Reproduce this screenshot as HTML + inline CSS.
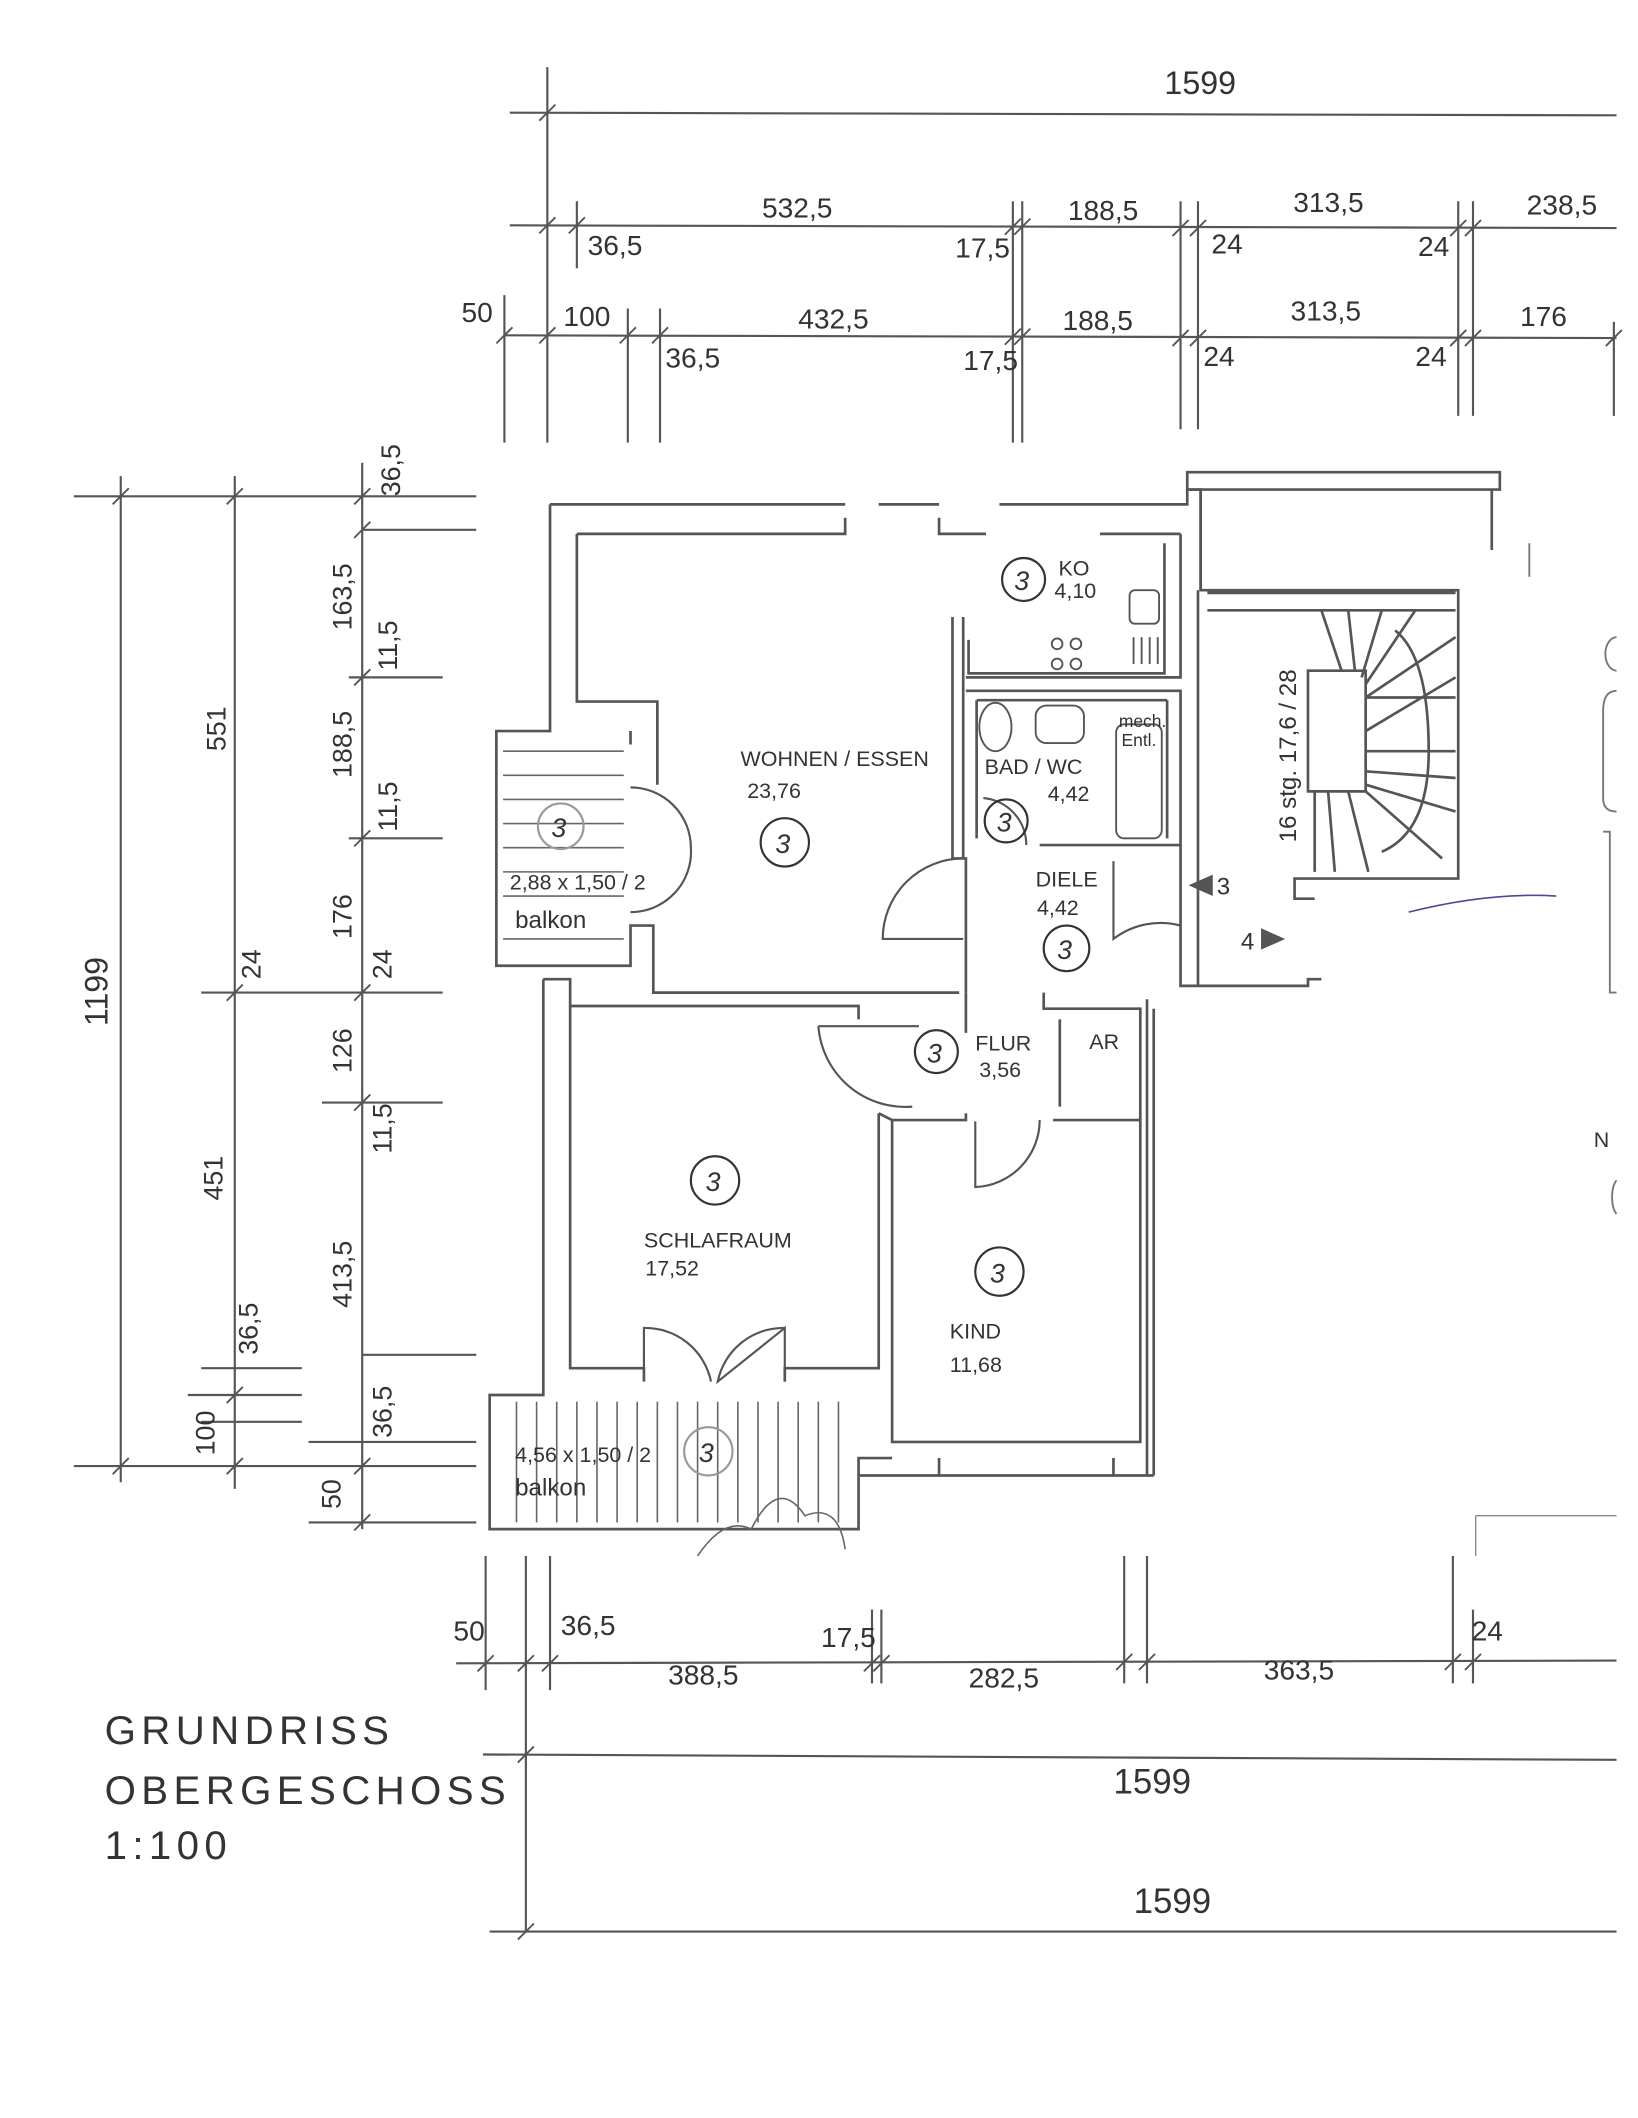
<!DOCTYPE html>
<html><head><meta charset="utf-8"><style>
html,body{margin:0;padding:0;background:#fff;}
svg{display:block}
text{font-family:"Liberation Sans",sans-serif;fill:#333;}
</style></head><body>
<svg width="1638" height="2118" viewBox="0 0 1221 1579" preserveAspectRatio="none" xmlns="http://www.w3.org/2000/svg">
<rect width="1221" height="1579" fill="#fff"/>
<g stroke="#555" stroke-width="1.6" fill="none">
<!-- top dimension lines -->
<line x1="380" y1="84" x2="1205" y2="86"/>
<line x1="380" y1="168" x2="1205" y2="170"/>
<line x1="376" y1="250" x2="1205" y2="252"/>
<line x1="408" y1="50" x2="408" y2="330"/>
<line x1="376" y1="220" x2="376" y2="330"/>
<line x1="430" y1="150" x2="430" y2="200"/>
<line x1="468" y1="230" x2="468" y2="330"/>
<line x1="492" y1="230" x2="492" y2="330"/>
<line x1="755" y1="150" x2="755" y2="330"/>
<line x1="762" y1="150" x2="762" y2="330"/>
<line x1="880" y1="150" x2="880" y2="320"/>
<line x1="893" y1="150" x2="893" y2="320"/>
<line x1="1087" y1="150" x2="1087" y2="310"/>
<line x1="1098" y1="150" x2="1098" y2="310"/>
<line x1="1203" y1="240" x2="1203" y2="310"/>
<!-- ticks -->
<g stroke-width="1.4">
<line x1="402" y1="90" x2="414" y2="78"/><line x1="402" y1="174" x2="414" y2="162"/><line x1="424" y1="174" x2="436" y2="162"/>
<line x1="749" y1="175" x2="761" y2="163"/><line x1="756" y1="175" x2="768" y2="163"/><line x1="874" y1="176" x2="886" y2="164"/><line x1="887" y1="176" x2="899" y2="164"/><line x1="1081" y1="176" x2="1093" y2="164"/><line x1="1092" y1="176" x2="1104" y2="164"/>
<line x1="370" y1="256" x2="382" y2="244"/><line x1="402" y1="256" x2="414" y2="244"/><line x1="462" y1="256" x2="474" y2="244"/><line x1="486" y1="256" x2="498" y2="244"/><line x1="749" y1="257" x2="761" y2="245"/><line x1="756" y1="257" x2="768" y2="245"/><line x1="874" y1="258" x2="886" y2="246"/><line x1="887" y1="258" x2="899" y2="246"/><line x1="1081" y1="258" x2="1093" y2="246"/><line x1="1092" y1="258" x2="1104" y2="246"/><line x1="1197" y1="258" x2="1209" y2="246"/>
</g>
<!-- left dimension lines -->
<line x1="90" y1="355" x2="90" y2="1105"/>
<line x1="175" y1="355" x2="175" y2="1110"/>
<line x1="270" y1="345" x2="270" y2="1140"/>
<line x1="55" y1="370" x2="355" y2="370"/>
<line x1="270" y1="395" x2="355" y2="395"/>
<line x1="260" y1="505" x2="330" y2="505"/>
<line x1="260" y1="625" x2="330" y2="625"/>
<line x1="150" y1="740" x2="330" y2="740"/>
<line x1="240" y1="822" x2="330" y2="822"/>
<line x1="140" y1="1040" x2="225" y2="1040"/>
<line x1="55" y1="1093" x2="355" y2="1093"/>
<line x1="230" y1="1135" x2="355" y2="1135"/>
<line x1="230" y1="1075" x2="355" y2="1075"/>
<line x1="270" y1="1010" x2="355" y2="1010"/>
<line x1="150" y1="1020" x2="225" y2="1020"/>
<line x1="150" y1="1060" x2="225" y2="1060"/>
<g stroke-width="1.4">
<line x1="84" y1="376" x2="96" y2="364"/><line x1="169" y1="376" x2="181" y2="364"/><line x1="264" y1="376" x2="276" y2="364"/><line x1="264" y1="401" x2="276" y2="389"/>
<line x1="264" y1="511" x2="276" y2="499"/><line x1="264" y1="631" x2="276" y2="619"/><line x1="169" y1="746" x2="181" y2="734"/><line x1="264" y1="746" x2="276" y2="734"/>
<line x1="264" y1="828" x2="276" y2="816"/><line x1="169" y1="1046" x2="181" y2="1034"/><line x1="84" y1="1099" x2="96" y2="1087"/><line x1="169" y1="1099" x2="181" y2="1087"/><line x1="264" y1="1099" x2="276" y2="1087"/><line x1="264" y1="1141" x2="276" y2="1129"/>
</g>
<!-- bottom dimension lines -->
<line x1="340" y1="1240" x2="1205" y2="1238"/>
<line x1="360" y1="1308" x2="1205" y2="1312"/>
<line x1="365" y1="1440" x2="1205" y2="1440"/>
<line x1="362" y1="1160" x2="362" y2="1260"/>
<line x1="392" y1="1160" x2="392" y2="1440"/>
<line x1="410" y1="1160" x2="410" y2="1260"/>
<line x1="650" y1="1200" x2="650" y2="1255"/>
<line x1="657" y1="1200" x2="657" y2="1255"/>
<line x1="838" y1="1160" x2="838" y2="1255"/>
<line x1="855" y1="1160" x2="855" y2="1255"/>
<line x1="1083" y1="1160" x2="1083" y2="1255"/>
<line x1="1098" y1="1200" x2="1098" y2="1255"/>
<g stroke-width="1.4">
<line x1="356" y1="1246" x2="368" y2="1234"/><line x1="386" y1="1246" x2="398" y2="1234"/><line x1="404" y1="1246" x2="416" y2="1234"/><line x1="644" y1="1246" x2="656" y2="1234"/><line x1="651" y1="1246" x2="663" y2="1234"/><line x1="832" y1="1245" x2="844" y2="1233"/><line x1="849" y1="1245" x2="861" y2="1233"/><line x1="1077" y1="1245" x2="1089" y2="1233"/><line x1="1092" y1="1245" x2="1104" y2="1233"/>
<line x1="386" y1="1314" x2="398" y2="1302"/><line x1="386" y1="1446" x2="398" y2="1434"/>
</g>
</g>

<!-- walls -->
<g stroke="#555" stroke-width="2" fill="none">
<!-- outer -->
<path d="M410,376 L630,376 M655,376 L700,376 M745,376 L885,376 L885,365 L895,365 L895,440"/>
<path d="M430,398 L630,398 L630,386 M700,386 L700,398 L735,398 M820,398 L880,398"/>
<path d="M410,376 L410,545 L370,545 L370,720 L470,720 L470,690 L487,690 L487,740 L715,740"/>
<path d="M430,398 L430,523 L490,523 L490,585 M470,545 L470,555"/>
<path d="M405,730 L405,1040 L365,1040 L365,1140 L640,1140 L640,1100 L860,1100"/>
<path d="M425,750 L425,1020 L480,1020 L480,1030 M585,1030 L585,1020 L655,1020 L655,830"/>
<path d="M405,730 L425,730 L425,750 L640,750 L640,760"/>
<path d="M665,835 L665,1075 L850,1075 L850,835 L785,835"/>
<path d="M640,1100 L640,1087 L665,1087 M700,1087 L700,1100 M830,1087 L830,1100"/>
<path d="M665,835 L655,830 M665,835 L720,835 L720,830"/>
<!-- inner hall/kitchen/bath -->
<path d="M710,460 L710,640 L720,640 L720,740"/>
<path d="M718,460 L718,640"/>
<path d="M720,505 L880,505 L880,398"/>
<path d="M722,477 L722,502 L868,502 L868,405"/>
<path d="M720,515 L880,515 L880,630 L775,630"/>
<path d="M728,522 L728,625 M870,522 L870,625 M728,522 L870,522"/>
<path d="M720,740 L720,770 M778,740 L778,752 L850,752 L850,835 M790,760 L790,825"/>
<path d="M880,630 L880,735 L975,735 L975,730 L985,730"/>
<path d="M860,752 L860,1100 M855,745 L855,1100"/>
<!-- stairwell -->
<path d="M885,365 L1118,365 L1118,352 L885,352 Z"/>
<path d="M1112,365 L1112,410 M895,365 L895,440 L1087,440 L1087,655 L965,655 L965,670 L980,670"/>
<path d="M893,440 L893,735"/>
<path d="M900,442 L1085,442 M900,455 L1085,455"/>
<path d="M975,500 L1018,500 L1018,590 L975,590 Z"/>
<path d="M1018,520 L1085,520 M1018,560 L1085,560 M1018,545 L1085,505"/>
<path d="M985,455 L1000,500 M1005,455 L1010,500 M1030,455 L1015,505 M1055,455 L1018,510 M1085,475 L1018,520"/>
<path d="M1018,575 L1085,580 M1018,585 L1085,605 M1018,590 L1075,640 M1005,590 L1020,650 M990,590 L995,650 M980,590 L980,650"/>
<path d="M1040,470 Q1065,490 1065,560 Q1065,620 1030,635"/>
</g>
<!-- doors arcs -->
<g stroke="#555" stroke-width="1.6" fill="none">
<path d="M470,587 A45,45 0 0 1 515,632 M470,680 A45,45 0 0 0 515,632"/>
<path d="M718,640 A60,60 0 0 0 658,700 L718,700"/>
<path d="M830,642 L830,700 A58,58 0 0 1 880,690"/>
<path d="M733,595 A35,35 0 0 1 765,630"/>
<path d="M610,765 L685,765 M610,765 A65,65 0 0 0 680,825"/>
<path d="M727,836 L727,885 A50,50 0 0 0 775,835"/>
<path d="M480,1020 L480,990 A50,50 0 0 1 530,1030 M585,990 A50,50 0 0 0 535,1030 L585,990 L585,1030"/>
</g>
<!-- balcony hatch -->
<g stroke="#666" stroke-width="1.2">
<line x1="375" y1="560" x2="465" y2="560"/><line x1="375" y1="578" x2="465" y2="578"/><line x1="375" y1="596" x2="465" y2="596"/><line x1="375" y1="614" x2="465" y2="614"/><line x1="375" y1="632" x2="465" y2="632"/><line x1="375" y1="650" x2="465" y2="650"/><line x1="375" y1="668" x2="465" y2="668"/><line x1="375" y1="700" x2="465" y2="700"/>
</g>
<g stroke="#666" stroke-width="1.2">
<line x1="385" y1="1045" x2="385" y2="1135"/><line x1="400" y1="1045" x2="400" y2="1135"/><line x1="415" y1="1045" x2="415" y2="1135"/><line x1="430" y1="1045" x2="430" y2="1135"/><line x1="445" y1="1045" x2="445" y2="1135"/><line x1="460" y1="1045" x2="460" y2="1135"/><line x1="475" y1="1045" x2="475" y2="1135"/><line x1="490" y1="1045" x2="490" y2="1135"/><line x1="505" y1="1045" x2="505" y2="1135"/><line x1="520" y1="1045" x2="520" y2="1135"/><line x1="535" y1="1045" x2="535" y2="1135"/><line x1="550" y1="1045" x2="550" y2="1135"/><line x1="565" y1="1045" x2="565" y2="1135"/><line x1="580" y1="1045" x2="580" y2="1135"/><line x1="595" y1="1045" x2="595" y2="1135"/><line x1="610" y1="1045" x2="610" y2="1135"/><line x1="625" y1="1045" x2="625" y2="1135"/>
</g>
<path d="M520,1160 Q540,1130 560,1140 Q580,1100 600,1130 Q625,1120 630,1155" stroke="#666" fill="none" stroke-width="1.2"/>
<path d="M1100,1130 L1100,1160 M1100,1130 L1205,1130" stroke="#888" fill="none"/>
<path d="M1050,680 Q1110,665 1160,668" stroke="#4a4a9a" fill="none" stroke-width="1.2"/>
<!-- kitchen/bath fixtures -->
<g stroke="#555" stroke-width="1.4" fill="none">
<rect x="842" y="440" width="22" height="25" rx="4"/>
<circle cx="788" cy="480" r="4"/><circle cx="802" cy="480" r="4"/><circle cx="788" cy="495" r="4"/><circle cx="802" cy="495" r="4"/>
<line x1="845" y1="475" x2="845" y2="495"/><line x1="851" y1="475" x2="851" y2="495"/><line x1="857" y1="475" x2="857" y2="495"/><line x1="863" y1="475" x2="863" y2="495"/>
<ellipse cx="742" cy="542" rx="12" ry="18"/>
<rect x="772" y="526" width="36" height="28" rx="8"/>
<rect x="832" y="540" width="34" height="85" rx="6"/>
</g>
<g stroke="#333" stroke-width="1.6" fill="none">
<circle cx="763" cy="432" r="16"/><circle cx="585" cy="628" r="18"/><circle cx="750" cy="612" r="16"/><circle cx="795" cy="707" r="17"/>
<circle cx="698" cy="784" r="16"/><circle cx="533" cy="880" r="18"/><circle cx="745" cy="948" r="18"/><circle cx="418" cy="616" r="17" stroke="#999"/><circle cx="528" cy="1082" r="18" stroke="#999"/>
</g>
<polygon points="886,660 904,652 904,668" fill="#555"/>
<polygon points="958,700 940,692 940,708" fill="#555"/>
<!-- right cut-off content -->
<g stroke="#777" fill="none" stroke-width="1.4">
<line x1="1140" y1="405" x2="1140" y2="430"/>
<path d="M1205,475 A8,12 0 0 0 1205,500"/><path d="M1205,515 Q1195,515 1195,530 L1195,595 Q1195,605 1205,605"/>
<path d="M1195,620 L1200,620 L1200,740 L1205,740"/>
<path d="M1205,880 A6,14 0 0 0 1205,905"/>
</g>

<!-- text -->
<g font-size="21" >
<text x="868" y="70" font-size="24">1599</text>
<text x="568" y="162">532,5</text><text x="796" y="164">188,5</text><text x="964" y="158">313,5</text><text x="1138" y="160">238,5</text>
<text x="438" y="190">36,5</text><text x="712" y="192">17,5</text><text x="903" y="189">24</text><text x="1057" y="191">24</text>
<text x="344" y="240">50</text><text x="420" y="243">100</text><text x="595" y="245">432,5</text><text x="792" y="246">188,5</text><text x="962" y="239">313,5</text><text x="1133" y="243">176</text>
<text x="496" y="274">36,5</text><text x="718" y="276">17,5</text><text x="897" y="273">24</text><text x="1055" y="273">24</text>
<text x="338" y="1223">50</text><text x="418" y="1219">36,5</text><text x="612" y="1228">17,5</text><text x="498" y="1256">388,5</text><text x="722" y="1258">282,5</text><text x="942" y="1252">363,5</text><text x="1097" y="1223">24</text>
<text x="830" y="1337" font-size="26" fill="#666">1599</text>
<text x="845" y="1426" font-size="26">1599</text>
</g>
<g font-size="20">
<text transform="translate(298,370) rotate(-90)">36,5</text>
<text transform="translate(262,470) rotate(-90)">163,5</text>
<text transform="translate(296,500) rotate(-90)">11,5</text>
<text transform="translate(168,560) rotate(-90)">551</text>
<text transform="translate(262,580) rotate(-90)">188,5</text>
<text transform="translate(296,620) rotate(-90)">11,5</text>
<text transform="translate(262,700) rotate(-90)">176</text>
<text transform="translate(194,730) rotate(-90)">24</text>
<text transform="translate(292,730) rotate(-90)">24</text>
<text transform="translate(80,765) rotate(-90)" font-size="24">1199</text>
<text transform="translate(262,800) rotate(-90)">126</text>
<text transform="translate(292,860) rotate(-90)">11,5</text>
<text transform="translate(166,895) rotate(-90)">451</text>
<text transform="translate(262,975) rotate(-90)">413,5</text>
<text transform="translate(192,1010) rotate(-90)">36,5</text>
<text transform="translate(292,1072) rotate(-90)">36,5</text>
<text transform="translate(160,1085) rotate(-90)">100</text>
<text transform="translate(254,1125) rotate(-90)">50</text>
<text transform="translate(966,628) rotate(-90)" font-size="18">16 stg. 17,6 / 28</text>
</g>
<g font-size="16" fill="#333">
<text x="789" y="429">KO</text><text x="786" y="446">4,10</text>
<text x="552" y="571">WOHNEN / ESSEN</text><text x="557" y="595">23,76</text>
<text x="734" y="577">BAD / WC</text><text x="781" y="597">4,42</text>
<text x="834" y="542" font-size="13">mech.</text><text x="836" y="556" font-size="13">Entl.</text>
<text x="772" y="661">DIELE</text><text x="773" y="682">4,42</text>
<text x="727" y="783">FLUR</text><text x="730" y="803">3,56</text>
<text x="812" y="782">AR</text>
<text x="480" y="930">SCHLAFRAUM</text><text x="481" y="951">17,52</text>
<text x="708" y="998">KIND</text><text x="708" y="1023">11,68</text>
<text x="380" y="663" fill="#666">2,88 x 1,50 / 2</text><text x="384" y="692" fill="#777" font-size="18">balkon</text>
<text x="384" y="1090" fill="#555">4,56 x 1,50 / 2</text><text x="384" y="1115" fill="#666" font-size="18">balkon</text>
<text x="907" y="667" font-size="18">3</text><text x="925" y="708" font-size="18">4</text>
<text x="1188" y="855">N</text>
</g>
<g font-size="20" font-style="italic">
<text x="756" y="440">3</text><text x="578" y="636">3</text><text x="743" y="620">3</text><text x="788" y="715">3</text><text x="691" y="792">3</text><text x="526" y="888">3</text><text x="738" y="956">3</text>
<text x="411" y="624" fill="#999">3</text><text x="521" y="1090" fill="#999">3</text>
</g>
<g font-size="30" letter-spacing="4" fill="#333">
<text x="78" y="1300">GRUNDRISS</text>
<text x="78" y="1345">OBERGESCHOSS</text>
<text x="78" y="1386">1:100</text>
</g>
</svg>
</body></html>
